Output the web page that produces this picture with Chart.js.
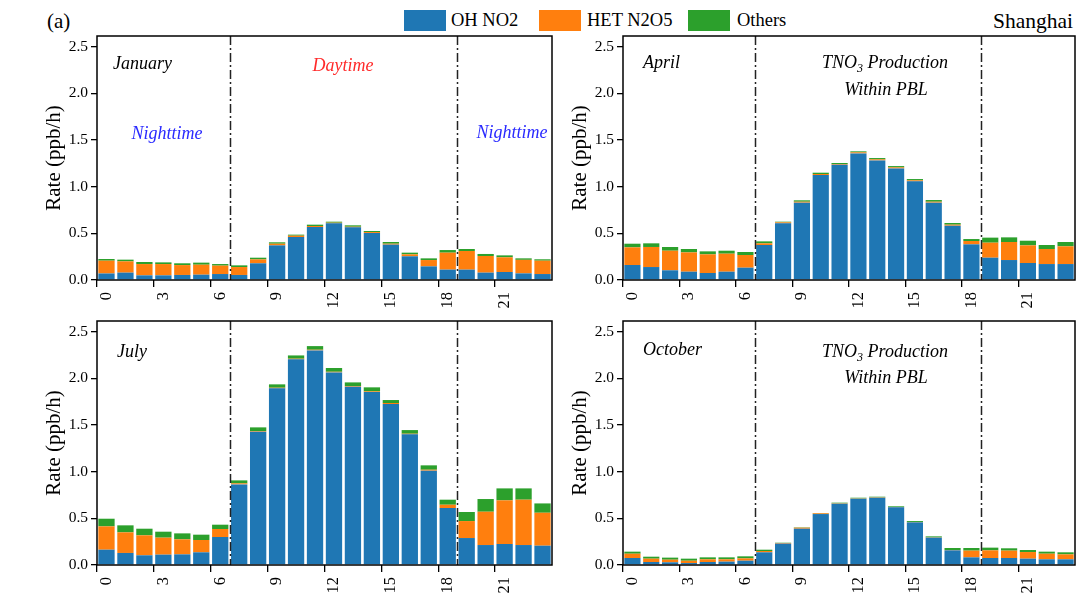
<!DOCTYPE html>
<html>
<head>
<meta charset="utf-8">
<script src="https://cdn.jsdelivr.net/npm/chart.js@4"></script>
<style>
  html, body { margin: 0; padding: 0; background: #fff; }
  #page { position: relative; width: 1077px; height: 600px; overflow: hidden; font-family: "Liberation Serif", "Times New Roman", serif; color: #000; }
  .panel { position: absolute; }
  .lbl { position: absolute; white-space: nowrap; }
  .key { position: absolute; top: 10px; width: 42px; height: 21px; box-sizing: border-box; }
  .keytxt { position: absolute; top: 9px; font-size: 18.5px; line-height: 23px; white-space: nowrap; }
</style>
</head>
<body>
<div id="page">
  <div class="lbl" style="left:47px; top:8px; font-size:21px; line-height:26px;">(a)</div>
  <div class="lbl" style="right:4px; top:8px; font-size:21.5px; line-height:26px;">Shanghai</div>

  <div class="key" style="left:404px; background:#1f77b4;"></div>
  <div class="keytxt" style="left:451px;">OH NO2</div>
  <div class="key" style="left:539px; background:#ff7f0e;"></div>
  <div class="keytxt" style="left:587px;">HET N2O5</div>
  <div class="key" style="left:688px; background:#2ca02c;"></div>
  <div class="keytxt" style="left:737px;">Others</div>

  <div class="panel" style="left:0px; top:30px;"><canvas id="cJan" width="560" height="285"></canvas></div>
  <div class="panel" style="left:560px; top:30px;"><canvas id="cApr" width="517" height="285"></canvas></div>
  <div class="panel" style="left:0px; top:315px;"><canvas id="cJul" width="560" height="285"></canvas></div>
  <div class="panel" style="left:560px; top:315px;"><canvas id="cOct" width="517" height="285"></canvas></div>
</div>
<script>
// Hours of the day (local time)
const hours = [0,1,2,3,4,5,6,7,8,9,10,11,12,13,14,15,16,17,18,19,20,21,22,23];
const hourTicks = ['0','3','6','9','12','15','18','21'];
const rateTicks = [0, 0.5, 1.0, 1.5, 2.0, 2.5];
const seriesNames = ['OH NO2', 'HET N2O5', 'Others'];

// TNO3 production rates (ppb/h) by pathway
const janOH    = [0.070,0.079,0.050,0.050,0.054,0.057,0.064,0.054,0.179,0.371,0.461,0.568,0.607,0.564,0.504,0.379,0.254,0.146,0.111,0.111,0.079,0.086,0.071,0.064];
const janHET   = [0.137,0.121,0.121,0.121,0.106,0.107,0.090,0.085,0.042,0.018,0.014,0.011,0.007,0.007,0.010,0.010,0.021,0.068,0.182,0.200,0.178,0.157,0.145,0.143];
const janOther = [0.018,0.018,0.022,0.018,0.019,0.022,0.017,0.018,0.018,0.015,0.011,0.014,0.011,0.015,0.011,0.018,0.018,0.018,0.028,0.021,0.022,0.021,0.016,0.015];

const aprOH    = [0.161,0.139,0.104,0.089,0.075,0.089,0.132,0.375,0.607,0.829,1.125,1.236,1.357,1.282,1.196,1.057,0.829,0.582,0.382,0.239,0.214,0.182,0.171,0.171];
const aprHET   = [0.189,0.215,0.210,0.207,0.200,0.193,0.136,0.018,0.011,0.010,0.011,0.007,0.011,0.011,0.011,0.011,0.010,0.011,0.036,0.161,0.193,0.189,0.161,0.190];
const aprOther = [0.039,0.039,0.040,0.036,0.032,0.032,0.032,0.021,0.007,0.015,0.014,0.011,0.011,0.014,0.014,0.014,0.018,0.018,0.021,0.054,0.050,0.050,0.043,0.046];

const julOH    = [0.164,0.129,0.104,0.111,0.114,0.136,0.300,0.864,1.429,1.893,2.204,2.300,2.064,1.911,1.854,1.725,1.400,1.011,0.611,0.289,0.214,0.225,0.214,0.207];
const julHET   = [0.250,0.221,0.214,0.182,0.161,0.132,0.086,0.011,0.007,0.007,0.007,0.007,0.007,0.007,0.007,0.011,0.007,0.010,0.035,0.182,0.357,0.468,0.486,0.353];
const julOther = [0.082,0.075,0.071,0.064,0.064,0.057,0.046,0.032,0.039,0.036,0.035,0.039,0.040,0.039,0.043,0.032,0.039,0.047,0.054,0.097,0.136,0.128,0.121,0.100];

const octOH    = [0.075,0.032,0.029,0.021,0.032,0.036,0.046,0.136,0.229,0.389,0.546,0.657,0.711,0.721,0.618,0.457,0.293,0.157,0.082,0.075,0.075,0.068,0.061,0.061];
const octHET   = [0.046,0.036,0.028,0.025,0.029,0.025,0.025,0.014,0.007,0.011,0.008,0.004,0.003,0.004,0.003,0.004,0.003,0.004,0.072,0.082,0.079,0.071,0.060,0.053];
const octOther = [0.022,0.021,0.022,0.022,0.021,0.021,0.022,0.014,0.003,0.004,0.003,0.007,0.007,0.007,0.008,0.010,0.011,0.021,0.028,0.029,0.025,0.022,0.022,0.022];

// Night/day boundaries, between hour bins
const dayStart = 6.5;
const dayEnd = 18.5;

const colors = ['#1f77b4', '#ff7f0e', '#2ca02c'];
const SERIF = '"Liberation Serif", "Times New Roman", serif';

Chart.defaults.font.family = SERIF;
Chart.defaults.color = '#000';

// Frame, day/night separators and in-panel labels
const panelDecor = {
  id: 'panelDecor',
  afterDatasetsDraw(chart, args, opts) {
    const {ctx, chartArea: a, scales: {x}} = chart;
    ctx.save();
    ctx.strokeStyle = '#222';
    ctx.lineWidth = 1.5;
    ctx.setLineDash([9, 3, 2, 3]);
    [dayStart, dayEnd].forEach(v => {
      const px = Math.round((x.getPixelForValue(Math.floor(v)) + x.getPixelForValue(Math.ceil(v))) / 2) + 0.5;
      ctx.beginPath();
      ctx.moveTo(px, a.top);
      ctx.lineTo(px, a.bottom);
      ctx.stroke();
    });
    ctx.restore();
  },
  afterDraw(chart, args, opts) {
    const {ctx, chartArea: a} = chart;
    ctx.save();
    ctx.strokeStyle = '#000';
    ctx.lineWidth = 1.5;
    ctx.setLineDash([]);
    ctx.strokeRect(a.left, a.top, a.width, a.height);

    ctx.textBaseline = 'middle';
    (opts.notes || []).forEach(n => {
      const size = n.size || 18;
      const main = 'italic ' + size + 'px ' + SERIF;
      const small = 'italic ' + Math.round(size * 0.65) + 'px ' + SERIF;
      const parts = n.parts || [{t: n.text}];
      // measure the whole run so it can be centred
      let w = 0;
      parts.forEach(p => { ctx.font = p.sub ? small : main; w += ctx.measureText(p.t).width; });
      let px = a.left + n.dx - (n.align === 'center' ? w / 2 : 0);
      const py = a.top + n.dy;
      ctx.fillStyle = n.color || '#000';
      ctx.textAlign = 'left';
      parts.forEach(p => {
        ctx.font = p.sub ? small : main;
        ctx.fillText(p.t, px, p.sub ? py + size * 0.3 : py);
        px += ctx.measureText(p.t).width;
      });
    });
    ctx.restore();
  }
};

const tnoLine = [{t: 'TNO'}, {t: '3', sub: true}, {t: ' Production'}];

function makePanel(id, oh, het, other, padLeft, padRight, notes) {
  const datasets = [oh, het, other].map((d, i) => ({
    label: seriesNames[i],
    data: d,
    backgroundColor: colors[i],
    borderWidth: 0,
    barPercentage: 0.86,
    categoryPercentage: 1.0
  }));
  return new Chart(document.getElementById(id), {
    type: 'bar',
    data: {labels: hours.map(String), datasets},
    options: {
      responsive: false,
      animation: false,
      layout: {padding: {left: padLeft, right: padRight, top: 6, bottom: 0}},
      plugins: {
        legend: {display: false},
        tooltip: {enabled: false},
        panelDecor: {notes}
      },
      scales: {
        x: {
          stacked: true,
          offset: true,
          grid: {
            drawOnChartArea: false,
            drawTicks: true,
            tickLength: 7,
            lineWidth: 1.3,
            color: c => (hourTicks.includes(String(c.index)) ? '#000' : 'rgba(0,0,0,0)')
          },
          border: {display: false},
          ticks: {
            autoSkip: false,
            maxRotation: 90,
            minRotation: 90,
            padding: 5,
            font: {size: 16.5},
            callback: (v, i) => (hourTicks.includes(String(hours[i])) ? String(hours[i]) : '')
          },
          afterFit: s => { s.height = 35; s.paddingLeft = 0; s.paddingRight = 0; }
        },
        y: {
          stacked: true,
          min: 0,
          max: 2.615,
          afterBuildTicks: s => { s.ticks = rateTicks.map(v => ({value: v})); },
          grid: {drawOnChartArea: false, drawTicks: true, tickLength: 6, lineWidth: 1.3, color: '#000'},
          border: {display: false},
          ticks: {
            padding: 3,
            font: {size: 15.5},
            callback: v => Number(v).toFixed(1)
          },
          title: {
            display: true,
            text: 'Rate (ppb/h)',
            font: {size: 21},
            padding: {top: 0, bottom: 0}
          },
          afterFit: s => { s.width = 55; s.paddingTop = 0; s.paddingBottom = 0; }
        }
      }
    },
    plugins: [panelDecor]
  });
}

makePanel('cJan', janOH, janHET, janOther, 42, 8, [
  {text: 'January', dx: 16, dy: 28},
  {text: 'Daytime', dx: 246, dy: 30, align: 'center', color: '#ff2a2a'},
  {text: 'Nighttime', dx: 70, dy: 98, align: 'center', color: '#2a2aff'},
  {text: 'Nighttime', dx: 415, dy: 97, align: 'center', color: '#2a2aff'}
]);
makePanel('cApr', aprOH, aprHET, aprOther, 8, 2, [
  {text: 'April', dx: 20, dy: 27},
  {parts: tnoLine, dx: 262, dy: 27, align: 'center'},
  {text: 'Within PBL', dx: 263, dy: 54, align: 'center'}
]);
makePanel('cJul', julOH, julHET, julOther, 42, 8, [
  {text: 'July', dx: 20, dy: 31}
]);
makePanel('cOct', octOH, octHET, octOther, 8, 2, [
  {text: 'October', dx: 20, dy: 29},
  {parts: tnoLine, dx: 262, dy: 31, align: 'center'},
  {text: 'Within PBL', dx: 263, dy: 57, align: 'center'}
]);
</script>
</body>
</html>
